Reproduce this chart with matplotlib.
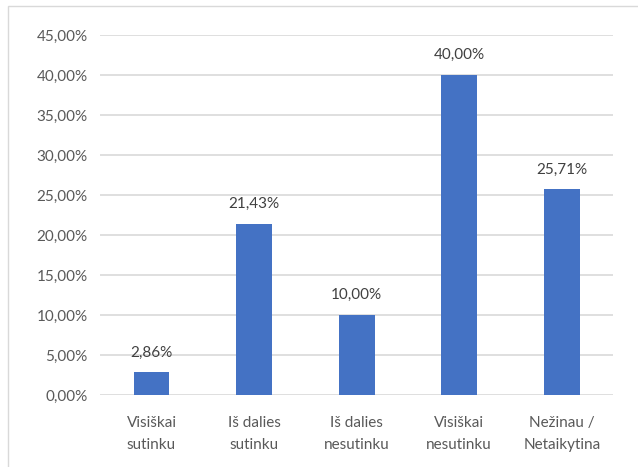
import matplotlib.pyplot as plt
from matplotlib.patches import Rectangle
import numpy as np

categories = ['Visiškai\nsutinku', 'Iš dalies\nsutinku', 'Iš dalies\nnesutinku',
              'Visiškai\nnesutinku', 'Nežinau /\nNetaikytina']
values = [2.86, 21.43, 10.00, 40.00, 25.71]
yticks = [0, 5, 10, 15, 20, 25, 30, 35, 40, 45]

plt.rcParams['font.family'] = ['Lato', 'DejaVu Sans']

fig = plt.figure(figsize=(6.38, 4.67), dpi=100)
ax = fig.add_axes([0.157, 0.154, 0.804, 0.771])

x = np.arange(len(categories))
ax.bar(x, values, width=0.35, color='#4472c4', zorder=3)

for xi, v in zip(x, values):
    ax.text(xi, v + 1.6, f'{v:.2f}%'.replace('.', ','), ha='center', va='bottom',
            fontsize=11, color='#404040')

ax.set_ylim(0, 45)
ax.set_xlim(-0.5, len(categories) - 0.5)
ax.set_yticks(yticks)
ax.set_yticklabels([f'{t:.2f}%'.replace('.', ',') for t in yticks])
ax.set_xticks(x)
ax.set_xticklabels(categories, linespacing=1.75)
ax.tick_params(axis='both', length=0, labelsize=11, labelcolor='#595959')
ax.tick_params(axis='y', pad=9)
ax.tick_params(axis='x', pad=15)
ax.yaxis.grid(True, color='#d9d9d9', linewidth=1.2, zorder=0)
for s in ax.spines.values():
    s.set_visible(False)

# chart border
fig.patches.append(Rectangle((8 / 638, -0.1), 1.1, 1 - 6 / 467 + 0.1,
                             transform=fig.transFigure, fill=False,
                             edgecolor='#d9d9d9', linewidth=1))

fig.savefig('out.png', dpi=100)
